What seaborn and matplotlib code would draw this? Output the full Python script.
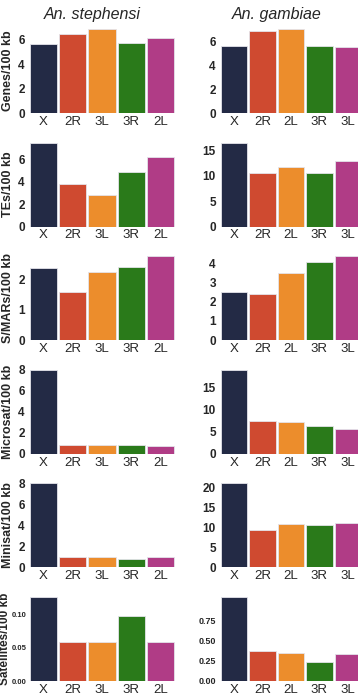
import matplotlib
matplotlib.use('Agg')
import matplotlib.pyplot as plt
import seaborn as sns
import pandas as pd

# arm order as drawn in each column
arms_st = ['X', '2R', '3L', '3R', '2L']
arms_ga = ['X', '2R', '2L', '3R', '3L']

row_labels = ['Genes/100 kb', 'TEs/100 kb', 'S/MARs/100 kb',
              'Microsat/100 kb', 'Minisat/100 kb', 'Satellites/100 kb']

# An. stephensi values (per 100 kb)
genes_st = [5.64, 6.45, 6.9, 5.73, 6.14]
tes_st = [7.5, 3.8, 2.8, 4.9, 6.2]
smars_st = [2.37, 1.6, 2.24, 2.41, 2.76]
micro_st = [7.97, 0.8, 0.86, 0.8, 0.77]
mini_st = [8.0, 1.03, 0.96, 0.83, 1.03]
sat_st = [0.127, 0.059, 0.059, 0.098, 0.059]

# An. gambiae values (per 100 kb)
genes_ga = [5.6, 6.85, 7.0, 5.6, 5.5]
tes_ga = [16.5, 10.5, 11.7, 10.5, 12.8]
smars_ga = [2.52, 2.38, 3.49, 4.05, 4.37]
micro_ga = [19.1, 7.45, 7.3, 6.3, 5.7]
mini_ga = [20.9, 9.4, 10.8, 10.5, 11.0]
sat_ga = [1.04, 0.375, 0.347, 0.24, 0.335]

ticks_st = [[0, 2, 4, 6], [0, 2, 4, 6], [0, 1, 2], [0, 2, 4, 6, 8],
            [0, 2, 4, 6, 8], [0.0, 0.05, 0.10]]
ticks_ga = [[0, 2, 4, 6], [0, 5, 10, 15], [0, 1, 2, 3, 4], [0, 5, 10, 15],
            [0, 5, 10, 15, 20], [0.0, 0.25, 0.50, 0.75]]

# colours go by bar position, not by arm name
bar_colors = ['#232a45', '#cf4a30', '#ec8d2c', '#2a7a1a', '#b03c86']

sns.set_style('white')
plt.rcParams['font.family'] = ['Liberation Sans', 'DejaVu Sans']

fig = plt.figure(figsize=(3.58, 6.95), dpi=100)
W, H = 358.0, 695.0

cols = [
    (arms_st, [genes_st, tes_st, smars_st, micro_st, mini_st, sat_st], ticks_st, 29, 146),
    (arms_ga, [genes_ga, tes_ga, smars_ga, micro_ga, mini_ga, sat_ga], ticks_ga, 220, 142),
]

for c, (arms, series, ticks, x0, w) in enumerate(cols):
    for r in range(6):
        top = 29 + 113.6 * r
        h = 84
        ax = fig.add_axes([x0 / W, 1 - (top + h) / H, w / W, h / H])
        df = pd.DataFrame({'arm': arms, 'val': series[r]})
        sns.barplot(data=df, x='arm', y='val', hue='arm', palette=bar_colors,
                    order=arms, hue_order=arms, legend=False, width=0.93,
                    saturation=1, edgecolor='#e4e4ea', linewidth=0.6, ax=ax)
        ax.set_ylim(0, max(series[r]))
        ax.set_xlim(-0.5, 4.5)
        ax.set_yticks(ticks[r])
        ax.tick_params(axis='both', length=0, pad=3)
        if r == 5:
            ax.set_yticklabels(['{:.2f}'.format(t) for t in ticks[r]],
                               fontsize=5.5 if c == 0 else 6.5, fontweight='bold')
            if c == 0:
                ax.tick_params(axis='y', pad=1.5)
        else:
            ax.set_yticklabels([str(t) for t in ticks[r]],
                               fontsize=8.5, fontweight='bold')
        ax.tick_params(axis='x', labelsize=9.5, pad=2)
        ax.set_xlabel('')
        if c == 0:
            if r == 5:
                ax.set_ylabel(row_labels[r], fontsize=8.5, fontweight='bold')
                ax.yaxis.set_label_coords(-18 / w, 0.5)
            else:
                ax.set_ylabel(row_labels[r], fontsize=9, fontweight='bold')
                ax.yaxis.set_label_coords(-15 / w, 0.5)
        else:
            ax.set_ylabel('')
        sns.despine(ax=ax, left=True, bottom=True)

fig.text(92 / W, 1 - 14 / H, 'An. stephensi', ha='center', va='center',
         fontsize=11.5, style='italic')
fig.text(277 / W, 1 - 14 / H, 'An. gambiae', ha='center', va='center',
         fontsize=11.5, style='italic')

fig.savefig('out.png', dpi=100)
